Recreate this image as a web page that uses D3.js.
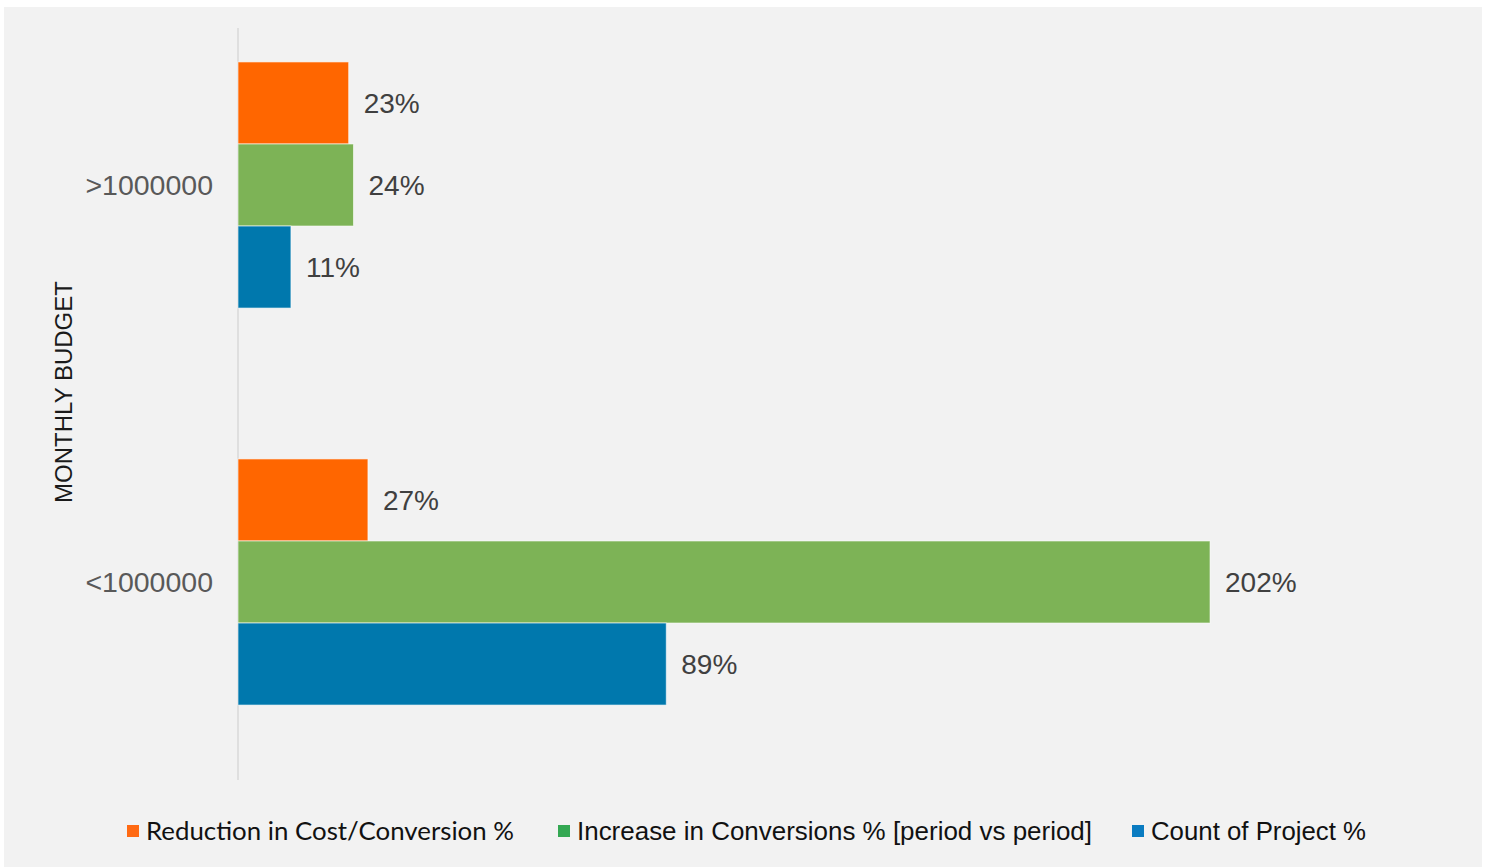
<!DOCTYPE html>
<html>
<head>
<meta charset="utf-8">
<script src="https://cdn.jsdelivr.net/npm/d3@7"></script>
<style>
  html, body { margin: 0; padding: 0; background: #fff; }
  svg { display: block; }
</style>
</head>
<body>
<svg id="chart" width="1491" height="867"></svg>
<script>
// chart data
const categories = ['>1000000', '<1000000']
const seriesNames = [
  'Reduction in Cost/Conversion %',
  'Increase in Conversions % [period vs period]',
  'Count of Project %',
]
const reductionCost = [23, 27]
const increaseConversions = [24, 202]
const countProject = [11, 89]

const seriesValues = [reductionCost, increaseConversions, countProject]
const barColors = ['#ff6600', '#7db356', '#0078ad']
const legendColors = ['#ff6a13', '#34a853', '#0a7cc1']

const svg = d3.select('#chart')

// grey panel behind the chart
svg.append('rect')
  .attr('x', 4).attr('y', 7)
  .attr('width', 1478).attr('height', 860)
  .attr('fill', '#f2f2f2')

const x = d3.scaleLinear().domain([0, 250]).range([238, 238 + 250 * 4.812])
const y = d3.scaleBand().domain(categories).range([-13.5, 780.5])
  .paddingInner(0.38).paddingOuter(0.19)
const ySub = d3.scaleBand().domain(d3.range(seriesNames.length)).range([0, y.bandwidth()])

// vertical axis line
svg.append('line')
  .attr('x1', x(0)).attr('x2', x(0))
  .attr('y1', 28).attr('y2', 780)
  .attr('stroke', '#d9d9d9').attr('stroke-width', 1.5)

// category labels
svg.append('g')
  .selectAll('text')
  .data(categories)
  .join('text')
  .attr('x', 213)
  .attr('y', (d) => y(d) + y.bandwidth() / 2)
  .attr('dy', '0.36em')
  .attr('text-anchor', 'end')
  .attr('font-family', 'Liberation Sans, Arial, sans-serif')
  .attr('font-size', 28.5)
  .attr('fill', '#595959')
  .text((d) => d)

// axis title
svg.append('text')
  .attr('transform', 'translate(72, 392) rotate(-90)')
  .attr('text-anchor', 'middle')
  .attr('font-family', 'Liberation Sans, Arial, sans-serif')
  .attr('font-size', 24)
  .attr('fill', '#1a1a1a')
  .text('MONTHLY BUDGET')

const rows = []
categories.forEach((cat, ci) => {
  seriesValues.forEach((vals, si) => {
    rows.push({ cat, si, value: vals[ci] })
  })
})

const bars = svg.append('g')
bars.selectAll('rect')
  .data(rows)
  .join('rect')
  .attr('x', x(0))
  .attr('y', (d) => y(d.cat) + ySub(d.si))
  .attr('width', (d) => x(d.value) - x(0))
  .attr('height', ySub.bandwidth())
  .attr('fill', (d) => barColors[d.si])
  .attr('stroke', '#ffffff')
  .attr('stroke-opacity', 0.6)
  .attr('stroke-width', 1)

bars.selectAll('text')
  .data(rows)
  .join('text')
  .attr('x', (d) => x(d.value) + 15)
  .attr('y', (d) => y(d.cat) + ySub(d.si) + ySub.bandwidth() / 2)
  .attr('dy', '0.36em')
  .attr('font-family', 'Liberation Sans, Arial, sans-serif')
  .attr('font-size', 28)
  .attr('fill', '#404040')
  .text((d) => d.value + '%')

// legend
const legendFonts = ['Lato, sans-serif', 'Liberation Sans, Arial, sans-serif', 'Liberation Sans, Arial, sans-serif']
const legendWidths = [368, 515, 215]
let lx = 127
const legend = svg.append('g')
seriesNames.forEach((name, i) => {
  legend.append('rect')
    .attr('x', lx).attr('y', 825)
    .attr('width', 12).attr('height', 12)
    .attr('fill', legendColors[i])
  legend.append('text')
    .attr('x', lx + 19).attr('y', 840)
    .attr('font-family', legendFonts[i])
    .attr('font-size', 25)
    .attr('fill', '#111')
    .attr('textLength', legendWidths[i])
    .attr('lengthAdjust', 'spacingAndGlyphs')
    .text(name)
  lx += 19 + legendWidths[i] + (i === 0 ? 44 : 40)
})
</script>
</body>
</html>
